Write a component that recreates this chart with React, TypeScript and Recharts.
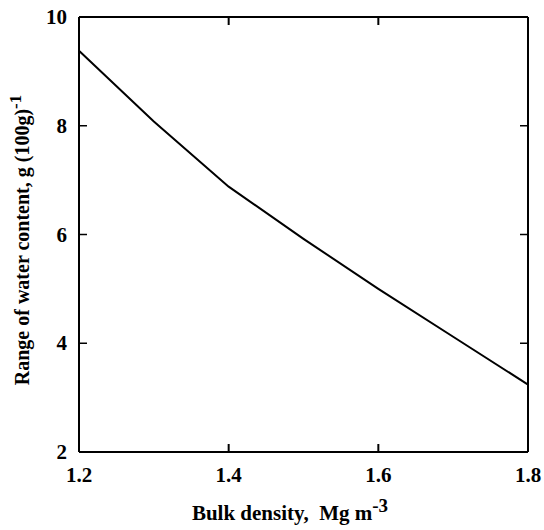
import { Line, LineChart, XAxis, YAxis } from 'recharts';

const bulkDensity = [1.2, 1.3, 1.4, 1.5, 1.6, 1.7, 1.8];
const waterRange = [9.38, 8.08, 6.88, 5.92, 5.0, 4.12, 3.24];
const xTicks = [1.2, 1.4, 1.6, 1.8];
const yTicks = [2, 4, 6, 8, 10];

const data = bulkDensity.map((d, i) => ({ density: d, range: waterRange[i] }));

const FONT = '"Liberation Serif", "Times New Roman", serif';
const TICK_LEN = 8;
const W = 544;
const H = 530;

type TickProps = { x?: number; y?: number; payload?: { value: number } };

function BottomTick({ x = 0, y = 0, payload }: TickProps) {
  const v = payload?.value ?? 0;
  const edge = v === xTicks[0] || v === xTicks[xTicks.length - 1];
  return (
    <g>
      {!edge && <line x1={x} y1={y} x2={x} y2={y - TICK_LEN} stroke="#000" strokeWidth={2} />}
      <text x={x} y={y + 30} textAnchor="middle" fontFamily={FONT} fontWeight="bold" fontSize={21} fill="#000">
        {v.toFixed(1)}
      </text>
    </g>
  );
}

function TopTick({ x = 0, y = 0, payload }: TickProps) {
  const v = payload?.value ?? 0;
  if (v === xTicks[0] || v === xTicks[xTicks.length - 1]) return <g />;
  return <line x1={x} y1={y} x2={x} y2={y + TICK_LEN} stroke="#000" strokeWidth={2} />;
}

function LeftTick({ x = 0, y = 0, payload }: TickProps) {
  const v = payload?.value ?? 0;
  const edge = v === yTicks[0] || v === yTicks[yTicks.length - 1];
  return (
    <g>
      {!edge && <line x1={x} y1={y} x2={x + TICK_LEN} y2={y} stroke="#000" strokeWidth={1.5} />}
      <text x={x - 12} y={y + 7} textAnchor="end" fontFamily={FONT} fontWeight="bold" fontSize={21} fill="#000">
        {v}
      </text>
    </g>
  );
}

function RightTick({ x = 0, y = 0, payload }: TickProps) {
  const v = payload?.value ?? 0;
  if (v === yTicks[0] || v === yTicks[yTicks.length - 1]) return <g />;
  return <line x1={x} y1={y} x2={x - TICK_LEN} y2={y} stroke="#000" strokeWidth={1.5} />;
}

export default function App() {
  return (
    <div style={{ position: 'fixed', left: 0, top: 0, width: W, height: H, overflow: 'hidden', background: '#fff' }}>
      <LineChart width={W} height={H} data={data} margin={{ top: 8, right: 0, left: 8, bottom: 0 }}>
        <XAxis
          xAxisId="bottom"
          dataKey="density"
          type="number"
          domain={[1.2, 1.8]}
          ticks={xTicks}
          height={78}
          tickSize={0}
          tickMargin={0}
          tickLine={false}
          axisLine={{ stroke: '#000', strokeWidth: 2 }}
          tick={<BottomTick />}
          interval={0}
        />
        <XAxis
          xAxisId="top"
          orientation="top"
          dataKey="density"
          type="number"
          domain={[1.2, 1.8]}
          ticks={xTicks}
          height={9}
          tickSize={0}
          tickMargin={0}
          tickLine={false}
          axisLine={{ stroke: '#000', strokeWidth: 2 }}
          tick={<TopTick />}
          interval={0}
        />
        <YAxis
          yAxisId="left"
          type="number"
          domain={[2, 10]}
          ticks={yTicks}
          width={71}
          tickSize={0}
          tickMargin={0}
          tickLine={false}
          axisLine={{ stroke: '#000', strokeWidth: 2 }}
          tick={<LeftTick />}
          interval={0}
        />
        <YAxis
          yAxisId="right"
          orientation="right"
          type="number"
          domain={[2, 10]}
          ticks={yTicks}
          width={16}
          tickSize={0}
          tickMargin={0}
          tickLine={false}
          axisLine={{ stroke: '#000', strokeWidth: 2 }}
          tick={<RightTick />}
          interval={0}
        />
        {/* invisible twin so the mirrored top/right frame axes get rendered */}
        <Line
          xAxisId="top"
          yAxisId="right"
          type="linear"
          dataKey="range"
          stroke="none"
          dot={false}
          activeDot={false}
          isAnimationActive={false}
        />
        <Line
          xAxisId="bottom"
          yAxisId="left"
          type="linear"
          dataKey="range"
          stroke="#000"
          strokeWidth={2}
          dot={false}
          isAnimationActive={false}
        />
      </LineChart>
      <svg width={W} height={H} style={{ position: 'absolute', left: 0, top: 0, pointerEvents: 'none' }}>
        <text x={290} y={520} textAnchor="middle" fontFamily={FONT} fontWeight="bold" fontSize={21} fill="#000">
          Bulk density,{'\u00a0\u00a0'}Mg m
          <tspan dy={-8} fontSize={19}>-3</tspan>
        </text>
        <text
          x={29}
          y={240}
          transform="rotate(-90 29 240)"
          textAnchor="middle"
          fontFamily={FONT}
          fontWeight="bold"
          fontSize={20}
          fill="#000"
        >
          Range of water content, g (100g)
          <tspan dy={-8} fontSize={17}>-1</tspan>
        </text>
      </svg>
    </div>
  );
}
